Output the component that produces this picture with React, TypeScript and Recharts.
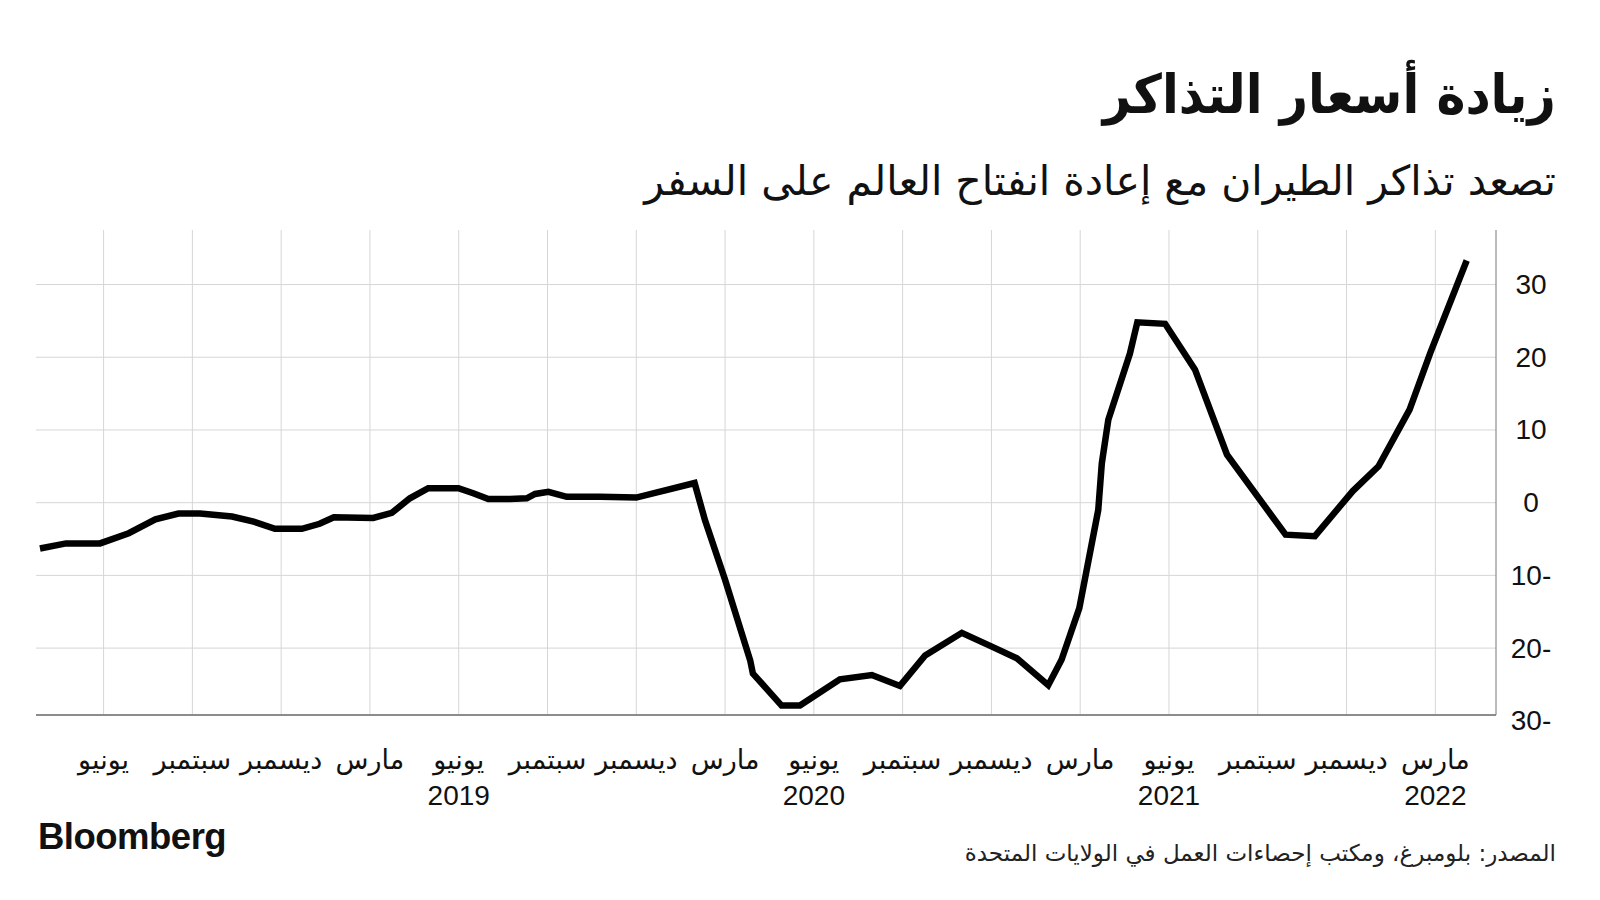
import React from "react";
import { Line, LineChart, ReferenceLine, XAxis, YAxis } from "recharts";

// position in months (0 = Jan 2018) and year-over-year change of airfares, %
const monthPos = [
  2.85, 3.73, 4.88, 5.85, 6.75, 7.53, 8.26, 9.34, 10.07, 10.79, 11.7, 12.3,
  12.78, 14.11, 14.74, 15.35, 15.97, 16.99, 17.49, 18.0, 18.73, 19.3, 19.58,
  20.03, 20.65, 21.77, 23.0, 24.97, 25.32, 26.0, 26.85, 26.94, 27.91, 28.53,
  29.88, 30.96, 31.91, 32.76, 34.0, 35.07, 35.86, 36.92, 37.37, 37.97, 38.61,
  38.73, 38.95, 39.68, 39.93, 40.87, 41.88, 42.96, 44.94, 45.93, 47.21, 48.08,
  49.13, 49.83, 51.06,
];
const fareChange = [
  -6.3, -5.6, -5.6, -4.2, -2.3, -1.5, -1.5, -1.9, -2.6, -3.6, -3.6, -2.9, -2.0,
  -2.1, -1.4, 0.6, 2.0, 2.0, 1.3, 0.5, 0.5, 0.6, 1.2, 1.5, 0.8, 0.8, 0.7, 2.7,
  -2.4, -10.6, -21.7, -23.5, -27.9, -27.9, -24.3, -23.7, -25.2, -21.0, -17.9,
  -19.9, -21.4, -25.1, -21.6, -14.5, -1.0, 5.4, 11.4, 20.5, 24.8, 24.6, 18.3,
  6.6, -4.4, -4.6, 1.6, 5.0, 12.8, 20.6, 33.3,
];

const tickMonths = [5, 8, 11, 14, 17, 20, 23, 26, 29, 32, 35, 38, 41, 44, 47, 50];
const tickNames = [
  "يونيو", "سبتمبر", "ديسمبر", "مارس",
  "يونيو", "سبتمبر", "ديسمبر", "مارس",
  "يونيو", "سبتمبر", "ديسمبر", "مارس",
  "يونيو", "سبتمبر", "ديسمبر", "مارس",
];
const tickYears = ["", "", "", "", "2019", "", "", "", "2020", "", "", "", "2021", "", "", "2022"];
const valueTicks = [-30, -20, -10, 0, 10, 20, 30];
const valueDomain = [-29.2, 37.5];

const data = monthPos.map((t, i) => ({ t, v: fareChange[i] }));

const arabic = '"DejaVu Sans", sans-serif';
const latin = '"Liberation Sans", Arial, sans-serif';
const gridColor = "#d6d6d6";

function MonthTick({ x, y, payload }: any) {
  const i = tickMonths.indexOf(payload.value);
  return (
    <g>
      <text x={x} y={y + 44} textAnchor="middle" dominantBaseline="central"
        fontFamily={arabic} fontSize={27} fill="#111" direction="rtl">
        {tickNames[i]}
      </text>
      {tickYears[i] && (
        <text x={x} y={y + 80} textAnchor="middle" dominantBaseline="central"
          fontFamily={latin} fontSize={28} fill="#111">
          {tickYears[i]}
        </text>
      )}
    </g>
  );
}

function ValueTick({ x, y, payload }: any) {
  const v = payload.value;
  const label = v < 0 ? `${-v}-` : `${v}`;
  return (
    <text x={x + 35} y={y} textAnchor="middle" dominantBaseline="central"
      fontFamily={latin} fontSize={28} fill="#111">
      {label}
    </text>
  );
}

export default function App() {
  return (
    <div style={{ position: "absolute", left: 0, top: 0, width: 1600, height: 900, background: "#fff", overflow: "hidden" }}>
      <div dir="rtl" style={{ position: "absolute", right: 44, top: 63, fontFamily: arabic, fontWeight: 700, fontSize: 54, lineHeight: "64px", color: "#111", transform: "scaleX(0.91)", transformOrigin: "right center", whiteSpace: "nowrap" }}>
        زيادة أسعار التذاكر
      </div>
      <div dir="rtl" style={{ position: "absolute", right: 44, top: 155, fontFamily: arabic, fontSize: 41, lineHeight: "52px", color: "#111", whiteSpace: "nowrap" }}>
        تصعد تذاكر الطيران مع إعادة انفتاح العالم على السفر
      </div>
      <LineChart width={1600} height={900} data={data}
        margin={{ top: 230, right: 0, bottom: 85, left: 36 }}>
        <XAxis dataKey="t" type="number" domain={[2.716, 52.05]} ticks={tickMonths}
          interval={0} height={100} tickSize={0} tickMargin={0}
          axisLine={{ stroke: "#8c8c8c", strokeWidth: 2 }} tick={<MonthTick />} />
        <YAxis orientation="right" type="number" domain={valueDomain} allowDataOverflow
          ticks={valueTicks} interval={0} width={104} tickSize={0} tickMargin={0}
          axisLine={{ stroke: "#777", strokeWidth: 1 }} tick={<ValueTick />} />
        {tickMonths.map((m) => (
          <ReferenceLine key={`x${m}`} x={m} stroke={gridColor} strokeWidth={1} />
        ))}
        {valueTicks.filter((v) => v > valueDomain[0]).map((v) => (
          <ReferenceLine key={`y${v}`} y={v} stroke={gridColor} strokeWidth={1} />
        ))}
        <Line dataKey="v" type="linear" stroke="#000" strokeWidth={6.5} dot={false}
          isAnimationActive={false} />
      </LineChart>
      <div style={{ position: "absolute", left: 38, top: 816, fontFamily: latin, fontWeight: 700, fontSize: 36.5, letterSpacing: -0.5, color: "#111" }}>
        Bloomberg
      </div>
      <div dir="rtl" style={{ position: "absolute", right: 44, top: 838, fontFamily: arabic, fontSize: 23, lineHeight: "30px", color: "#222", whiteSpace: "nowrap" }}>
        المصدر: بلومبرغ، ومكتب إحصاءات العمل في الولايات المتحدة
      </div>
    </div>
  );
}
